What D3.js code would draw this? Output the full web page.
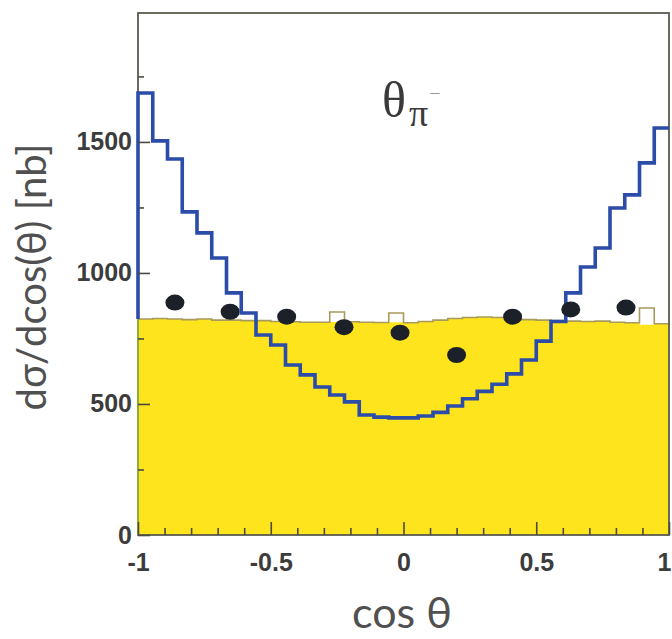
<!DOCTYPE html>
<html>
<head>
<meta charset="utf-8">
<script src="https://cdn.jsdelivr.net/npm/d3@7"></script>
<style>
	body { margin: 0; background: #ffffff; }
	svg { display: block; }
</style>
</head>
<body>
<svg></svg>
<script>
var width = 672;
var height = 639;

// 36 bins over cos theta in [-1, 1]
var nBins = 36;
var blueValues = [1687, 1504, 1435, 1233, 1153, 1057, 924, 847, 763, 725, 649, 611,
	565, 534, 508, 458, 450, 447, 447, 454, 468, 492, 520, 548,
	575, 615, 668, 740, 815, 924, 1023, 1095, 1248, 1298, 1420, 1553];
var yellowValues = [824, 826, 824, 822, 824, 820, 820, 818, 818, 815, 814, 812,
	812, 813, 814, 812, 811, 812, 810, 815, 820, 826, 830, 832,
	830, 826, 822, 820, 818, 816, 815, 816, 812, 810, 802, 806];
var outlineValues = [824, 826, 824, 822, 824, 820, 820, 818, 818, 815, 814, 812,
	812, 851, 814, 812, 811, 847, 810, 815, 820, 826, 830, 832,
	830, 826, 822, 820, 818, 816, 815, 816, 812, 810, 866, 806];

var pointX = [-0.861, -0.653, -0.440, -0.224, -0.013, 0.200, 0.411, 0.630, 0.838];
var pointY = [887, 852, 833, 793, 772, 687, 833, 861, 868];

var xTicks = [-1, -0.5, 0, 0.5, 1];
var xTickLabels = ["-1", "-0.5", "0", "0.5", "1"];
var xMinorTicks = [-0.9, -0.8, -0.7, -0.6, -0.4, -0.3, -0.2, -0.1, 0.1, 0.2, 0.3, 0.4, 0.6, 0.7, 0.8, 0.9];
var yTicks = [0, 500, 1000, 1500];
var yMinorTicks = [250, 750, 1250, 1750];

var svg = d3.select("svg")
	.attr("width", width)
	.attr("height", height);

var x = d3.scaleLinear()
	.domain([-1, 1])
	.range([138, 669]);

var y = d3.scaleLinear()
	.domain([0, 1992])
	.range([535, 13]);

function steps(values) {
	var pts = values.map(function (v, i) {
		return { x: -1 + i * 2 / nBins, y: v };
	});
	pts.push({ x: 1, y: values[values.length - 1] });
	return pts;
}

var stepLine = d3.line()
	.x(d => x(d.x))
	.y(d => y(d.y))
	.curve(d3.curveStepAfter);

var stepArea = d3.area()
	.x(d => x(d.x))
	.y0(y(0))
	.y1(d => y(d.y))
	.curve(d3.curveStepAfter);

// yellow filled histogram
svg.append("path")
	.datum(steps(yellowValues))
	.attr("fill", "#fde41c")
	.attr("d", stepArea);

svg.append("path")
	.datum(steps(outlineValues))
	.attr("fill", "none")
	.attr("stroke", "#a89a5a")
	.attr("stroke-width", 1.6)
	.attr("d", stepLine);

// frame
svg.append("rect")
	.attr("x", x(-1))
	.attr("y", y(1992))
	.attr("width", x(1) - x(-1))
	.attr("height", y(0) - y(1992))
	.attr("fill", "none")
	.attr("stroke", "#5a5a50")
	.attr("stroke-width", 1.8);

// left edge of the yellow histogram is greenish
svg.append("line")
	.attr("x1", x(-1))
	.attr("x2", x(-1))
	.attr("y1", y(0))
	.attr("y2", y(yellowValues[0]))
	.attr("stroke", "#8daa3a")
	.attr("stroke-width", 2);

// blue histogram, dropping only to the yellow top at the left edge
var bluePts = steps(blueValues);
bluePts.unshift({ x: -1, y: yellowValues[0] });
svg.append("path")
	.datum(bluePts)
	.attr("fill", "none")
	.attr("stroke", "#2b4ca8")
	.attr("stroke-width", 3.6)
	.attr("d", stepLine);

var yAxis = d3.axisLeft(y)
	.tickValues(yTicks)
	.tickSize(-12)
	.tickPadding(6)
	.tickFormat(d3.format("d"));

var yAxisGroup = svg.append("g")
	.attr("transform", "translate(" + x(-1) + ",0)")
	.call(yAxis);

svg.append("g")
	.attr("transform", "translate(" + x(-1) + ",0)")
	.call(d3.axisLeft(y).tickValues(yMinorTicks).tickSize(-6).tickFormat(""));

var xAxis = d3.axisBottom(x)
	.tickValues(xTicks)
	.tickSize(-13)
	.tickPadding(18)
	.tickFormat((d, i) => xTickLabels[i]);

var xAxisGroup = svg.append("g")
	.attr("transform", "translate(0," + y(0) + ")")
	.call(xAxis);

svg.append("g")
	.attr("transform", "translate(0," + y(0) + ")")
	.call(d3.axisBottom(x).tickValues(xMinorTicks).tickSize(-7).tickFormat(""));

svg.selectAll(".domain").remove();
svg.selectAll(".tick line")
	.attr("stroke", "#4a4a40")
	.attr("stroke-width", 1.6);
svg.selectAll(".tick text")
	.attr("fill", "#3c3c3c")
	.style("font-family", "'Liberation Sans', Arial, sans-serif")
	.style("font-weight", "bold")
	.style("font-size", "25px");

// last x label sits at the right edge: keep it inside the picture
xAxisGroup.selectAll(".tick text")
	.filter(d => d === 1)
	.attr("text-anchor", "end")
	.attr("x", 2);

// data points
svg.append("g")
	.selectAll("ellipse")
	.data(pointX)
	.enter()
	.append("ellipse")
	.attr("cx", d => x(d))
	.attr("cy", (d, i) => y(pointY[i]))
	.attr("rx", 9.5)
	.attr("ry", 8)
	.attr("fill", "#1c2029");

// title
var title = svg.append("text")
	.attr("x", 382)
	.attr("y", 117)
	.attr("fill", "#3a3a3a")
	.style("font-family", "'Liberation Serif', 'Times New Roman', serif");
title.append("tspan")
	.style("font-size", "50px")
	.text("θ");
title.append("tspan")
	.attr("dx", 3)
	.attr("dy", 9)
	.style("font-size", "38px")
	.text("π");
title.append("tspan")
	.attr("dx", 1)
	.attr("dy", -26)
	.attr("fill", "#999")
	.style("font-size", "20px")
	.text("−");

// axis titles
svg.append("text")
	.attr("transform", "translate(46,277) rotate(-90)")
	.style("text-anchor", "middle")
	.attr("fill", "#505050")
	.style("font-family", "Lato, 'Open Sans', sans-serif")
	.style("font-size", "40px")
	.text("dσ/dcos(θ) [nb]");

svg.append("text")
	.attr("x", 402)
	.attr("y", 628)
	.style("text-anchor", "middle")
	.attr("fill", "#505050")
	.style("font-family", "Lato, 'Open Sans', sans-serif")
	.style("font-size", "43px")
	.text("cos θ");
</script>
</body>
</html>
